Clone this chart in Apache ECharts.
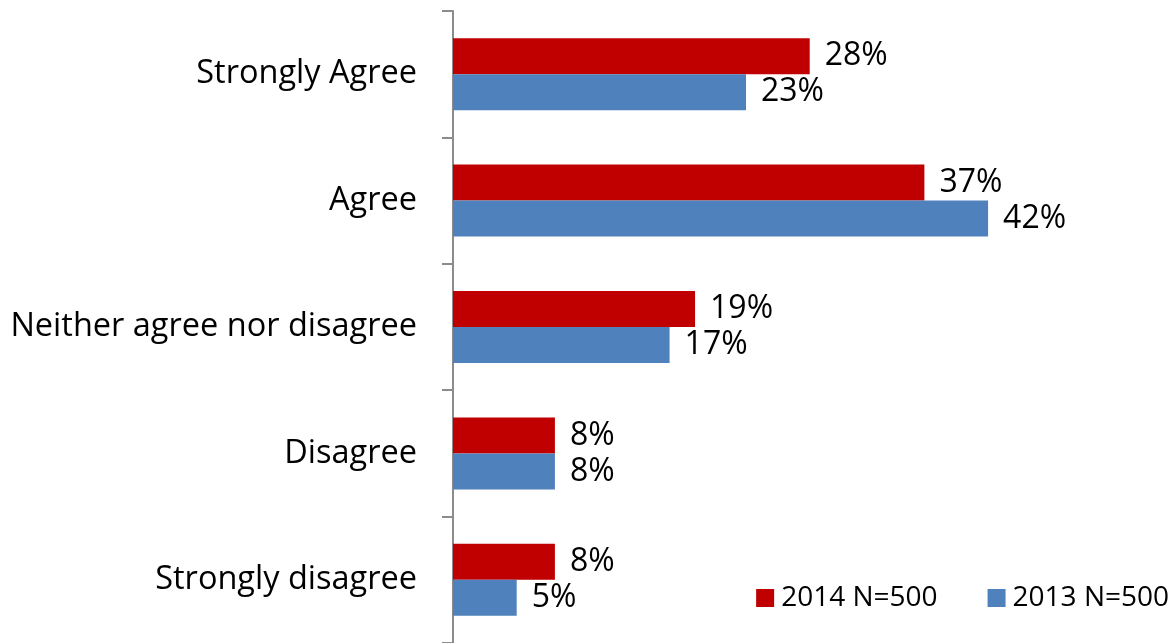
<!DOCTYPE html>
<html>
<head>
<meta charset="utf-8">
<script src="https://cdn.jsdelivr.net/npm/echarts@6/dist/echarts.min.js"></script>
<style>
  html, body { margin: 0; padding: 0; background: #ffffff; }
  #chart { width: 1171px; height: 643px; }
</style>
</head>
<body>
<div id="chart"></div>
<script>
// Response categories, top to bottom
const categories = ['Strongly Agree', 'Agree', 'Neither agree nor disagree', 'Disagree', 'Strongly disagree'];
// Share of respondents (%)
const values2014 = [28, 37, 19, 8, 8];
const values2013 = [23, 42, 17, 8, 5];
const seriesNames = ['2014 N=500', '2013 N=500'];

const FONT = '"Open Sans", "Noto Sans", sans-serif';

const chart = echarts.init(document.getElementById('chart'), null, { renderer: 'canvas' });

const labelStyle = {
  show: true,
  position: 'right',
  distance: 15,
  formatter: '{c}%',
  color: '#000000',
  fontSize: 32,
  fontFamily: FONT,
  padding: [5, 0, 0, 0]
};

chart.setOption({
  animation: false,
  backgroundColor: '#ffffff',
  grid: { left: 453, top: 11, width: 637, height: 635 },
  legend: {
    right: -3,
    top: 579,
    itemWidth: 18,
    itemHeight: 18,
    itemGap: 50,
    icon: 'rect',
    textStyle: { color: '#000000', fontSize: 28, fontFamily: FONT, padding: [0, 0, 0, 2] },
    data: seriesNames
  },
  xAxis: {
    type: 'value',
    min: 0,
    max: 50,
    show: false
  },
  yAxis: {
    type: 'category',
    inverse: true,
    data: categories,
    axisLine: { show: true, lineStyle: { color: '#8c8c8c', width: 2 } },
    axisTick: { show: true, length: 11, lineStyle: { color: '#8c8c8c', width: 2 } },
    axisLabel: { color: '#000000', fontSize: 32.5, fontFamily: FONT, margin: 36, padding: [6, 0, 0, 0] },
    splitLine: { show: false }
  },
  series: [
    {
      name: seriesNames[0],
      type: 'bar',
      data: values2014,
      barWidth: 36,
      barGap: '0%',
      itemStyle: { color: '#C00000' },
      label: labelStyle
    },
    {
      name: seriesNames[1],
      type: 'bar',
      data: values2013,
      barWidth: 36,
      barGap: '0%',
      itemStyle: { color: '#4F81BD' },
      label: labelStyle
    }
  ]
});
</script>
</body>
</html>
